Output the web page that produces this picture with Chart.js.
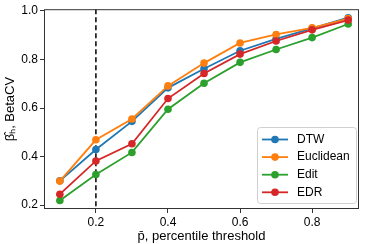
<!DOCTYPE html>
<html>
<head>
<meta charset="utf-8">
<script src="https://cdn.jsdelivr.net/npm/chart.js@4"></script>
<style>
  body { margin: 0; background: #fff; }
</style>
</head>
<body>
<canvas id="lineChart" width="366" height="244"></canvas>
<script>
// percentile thresholds (x) and BetaCV per distance measure
const thresholds = [0.1, 0.2, 0.3, 0.4, 0.5, 0.6, 0.7, 0.8, 0.9];
const dtw       = [0.300, 0.429, 0.545, 0.683, 0.762, 0.836, 0.885, 0.928, 0.972];
const euclidean = [0.299, 0.469, 0.555, 0.691, 0.785, 0.868, 0.903, 0.930, 0.968];
const edit      = [0.219, 0.326, 0.417, 0.595, 0.702, 0.788, 0.841, 0.890, 0.946];
const edr       = [0.245, 0.382, 0.453, 0.639, 0.742, 0.822, 0.876, 0.922, 0.962];
const seriesNames = ['DTW', 'Euclidean', 'Edit', 'EDR'];
const xTicks = [0.2, 0.4, 0.6, 0.8];
const yTicks = [0.2, 0.4, 0.6, 0.8, 1.0];
const markedThreshold = 0.2;

const colors = ['#1f77b4', '#ff7f0e', '#2ca02c', '#d62728'];
const FONT = 'Liberation Sans, Arial, sans-serif';

function toPoints(values) {
  return thresholds.map((t, i) => ({ x: t, y: values[i] }));
}

const series = [dtw, euclidean, edit, edr];
const datasets = series.map((values, i) => ({
  label: seriesNames[i],
  data: toPoints(values),
  borderColor: colors[i],
  backgroundColor: colors[i],
  pointBackgroundColor: colors[i],
  borderWidth: 1.8,
  pointRadius: 3.8,
  pointBorderWidth: 0,
  tension: 0,
  order: series.length - i   // later series on top, like matplotlib
}));

// frame + dashed vertical marker
const framePlugin = {
  id: 'frame',
  beforeDatasetsDraw(chart) {
    const { ctx, chartArea: a } = chart;
    const x = chart.scales.x.getPixelForValue(markedThreshold);
    ctx.save();
    ctx.strokeStyle = '#000';
    ctx.lineWidth = 1.5;
    ctx.setLineDash([5, 3]);
    ctx.beginPath();
    ctx.moveTo(x, a.top);
    ctx.lineTo(x, a.bottom);
    ctx.stroke();
    ctx.restore();
  },
  afterDraw(chart) {
    const { ctx, chartArea: a } = chart;
    ctx.save();
    ctx.strokeStyle = '#333';
    ctx.lineWidth = 1;
    ctx.strokeRect(a.left + 0.5, a.top + 0.5, a.right - a.left - 1, a.bottom - a.top - 1);
    ctx.restore();
  }
};

// matplotlib-style legend box in the lower right
const legendPlugin = {
  id: 'boxLegend',
  afterDatasetsDraw(chart) {
    const { ctx, chartArea: a } = chart;
    const right = a.right - 3, bottom = a.bottom - 6;
    const w = 99, h = 76;
    const left = right - w, top = bottom - h;
    ctx.save();
    ctx.fillStyle = 'rgba(255,255,255,0.85)';
    ctx.strokeStyle = '#d0d0d0';
    ctx.lineWidth = 1;
    ctx.beginPath();
    ctx.roundRect(left + 0.5, top + 0.5, w, h, 3);
    ctx.fill();
    ctx.stroke();
    ctx.font = '12px ' + FONT;
    ctx.textBaseline = 'middle';
    seriesNames.forEach((name, i) => {
      const y = top + 12.5 + i * 17.6;
      ctx.strokeStyle = colors[i];
      ctx.lineWidth = 1.8;
      ctx.beginPath();
      ctx.moveTo(left + 5, y);
      ctx.lineTo(left + 31, y);
      ctx.stroke();
      ctx.fillStyle = colors[i];
      ctx.beginPath();
      ctx.arc(left + 18, y, 3.8, 0, Math.PI * 2);
      ctx.fill();
      ctx.fillStyle = '#000';
      ctx.fillText(name, left + 40, y);
    });
    ctx.restore();
  }
};

new Chart(document.getElementById('lineChart').getContext('2d'), {
  type: 'line',
  data: { datasets },
  plugins: [framePlugin, legendPlugin],
  options: {
    responsive: false,
    devicePixelRatio: 1,
    animation: false,
    layout: { padding: { top: 4, right: 7, left: 0, bottom: 0 } },
    plugins: { legend: { display: false }, tooltip: { enabled: false } },
    scales: {
      x: {
        type: 'linear',
        min: 0.056,
        max: 0.93,
        afterBuildTicks: s => { s.ticks = xTicks.map(v => ({ value: v })); },
        afterFit: s => { s.height = 35; },
        ticks: {
          callback: v => v.toFixed(1),
          font: { family: FONT, size: 12 },
          color: '#000',
          padding: 2,
          maxRotation: 0
        },
        grid: { drawOnChartArea: false, drawTicks: true, tickLength: 4, color: '#333' },
        border: { display: false },
        title: {
          display: true,
          text: 'p\u0304, percentile threshold',
          font: { family: FONT, size: 13 },
          color: '#000',
          padding: { top: 0, bottom: 0 }
        }
      },
      y: {
        min: 0.184,
        max: 1.007,
        afterBuildTicks: s => { s.ticks = yTicks.map(v => ({ value: v })); },
        afterFit: s => { s.width = 44; },
        ticks: {
          callback: v => v.toFixed(1),
          font: { family: FONT, size: 12 },
          color: '#000',
          padding: 2
        },
        grid: { drawOnChartArea: false, drawTicks: true, tickLength: 4, color: '#333' },
        border: { display: false },
        title: {
          display: true,
          text: '\u03b2\u0302\u2095, BetaCV',
          font: { family: FONT, size: 13 },
          color: '#000',
          padding: { top: 3, bottom: 0 }
        }
      }
    }
  }
});
</script>
</body>
</html>
